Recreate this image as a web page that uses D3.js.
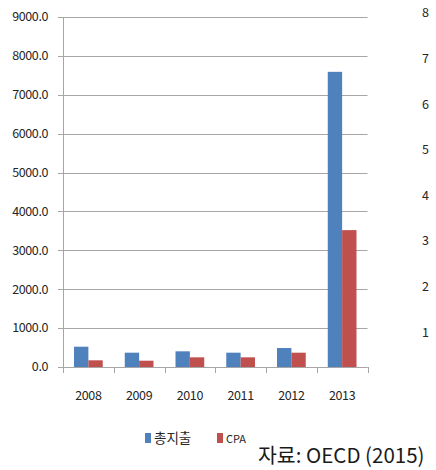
<!DOCTYPE html>
<html>
<head>
<meta charset="utf-8">
<script src="https://cdn.jsdelivr.net/npm/d3@7"></script>
<style>
  html, body { margin: 0; padding: 0; background: #fff; }
  svg { display: block; }
  text { font-family: "Noto Sans CJK KR", "Noto Sans", sans-serif; }
</style>
</head>
<body>
<svg id="chart" width="436" height="470"></svg>
<script>
// Annual spending (total vs. CPA)
const years = ["2008", "2009", "2010", "2011", "2012", "2013"];
const seriesNames = ["총지출", "CPA"];
const totalSpend = [522, 368, 403, 368, 488, 7590];
const cpaSpend = [172, 162, 249, 249, 368, 3520];
const yTicks = [0, 1000, 2000, 3000, 4000, 5000, 6000, 7000, 8000, 9000];
const sideTicks = ["8", "7", "6", "5", "4", "3", "2", "1"];
const colors = ["#4f81bd", "#c0504d"];
const sourceNote = "자료: OECD (2015)";

const svg = d3.select("#chart");
const plotLeft = 63, plotRight = 367.5, plotTop = 17, plotBottom = 367;

const x = d3.scaleBand().domain(years).range([plotLeft, plotRight])
  .paddingInner(0.434).paddingOuter(0.217);
const xs = d3.scaleBand().domain(seriesNames).range([0, x.bandwidth()]);
const y = d3.scaleLinear().domain([0, 9000]).range([plotBottom, plotTop]);

// horizontal gridlines with small left ticks
svg.append("g")
  .selectAll("line").data(yTicks).join("line")
  .attr("x1", plotLeft - 5).attr("x2", plotRight)
  .attr("y1", d => Math.round(y(d)) + 0.5).attr("y2", d => Math.round(y(d)) + 0.5)
  .attr("stroke", "#a6a6a6").attr("stroke-width", 1);

// y labels
svg.append("g")
  .selectAll("text").data(yTicks).join("text")
  .attr("x", 48).attr("y", d => y(d))
  .attr("dy", "0.35em")
  .attr("text-anchor", "end")
  .attr("font-size", 12.5)
  .attr("letter-spacing", -0.4)
  .attr("fill", "#262626")
  .text(d => d.toFixed(1));

// vertical axis line
svg.append("line")
  .attr("x1", plotLeft + 0.5).attr("x2", plotLeft + 0.5)
  .attr("y1", plotTop).attr("y2", plotBottom)
  .attr("stroke", "#a6a6a6");

// bars
const groups = svg.append("g").selectAll("g").data(years).join("g")
  .attr("transform", d => `translate(${x(d)},0)`);
groups.selectAll("rect")
  .data((d, i) => [
    { name: seriesNames[0], v: totalSpend[i] },
    { name: seriesNames[1], v: cpaSpend[i] }
  ])
  .join("rect")
  .attr("x", d => xs(d.name))
  .attr("width", xs.bandwidth())
  .attr("y", d => y(d.v))
  .attr("height", d => y(0) - y(d.v))
  .attr("fill", (d, i) => colors[i]);

// category axis with boundary ticks
const step = x.step();
svg.append("line")
  .attr("x1", plotLeft).attr("x2", plotRight)
  .attr("y1", plotBottom + 0.5).attr("y2", plotBottom + 0.5)
  .attr("stroke", "#a6a6a6");
svg.append("g").selectAll("line").data(d3.range(years.length + 1)).join("line")
  .attr("x1", i => Math.round(plotLeft + i * step) + 0.5)
  .attr("x2", i => Math.round(plotLeft + i * step) + 0.5)
  .attr("y1", plotBottom).attr("y2", plotBottom + 6)
  .attr("stroke", "#a6a6a6");
svg.append("g").selectAll("text").data(years).join("text")
  .attr("x", d => x(d) + x.bandwidth() / 2)
  .attr("y", 400)
  .attr("text-anchor", "middle")
  .attr("font-size", 12.5)
  .attr("letter-spacing", -0.4)
  .attr("fill", "#262626")
  .text(d => d);

// legend
const legend = svg.append("g");
const legendItems = [
  { x: 145, label: seriesNames[0], size: 13.5 },
  { x: 217, label: seriesNames[1], size: 11 }
];
legendItems.forEach((item, i) => {
  legend.append("rect")
    .attr("x", item.x).attr("y", 433)
    .attr("width", 6).attr("height", 10)
    .attr("fill", colors[i]);
  legend.append("text")
    .attr("x", item.x + 9).attr("y", 443)
    .attr("font-size", item.size)
    .attr("fill", "#262626")
    .text(item.label);
});

// source note
svg.append("text")
  .attr("x", 258).attr("y", 463)
  .attr("font-size", 20.5)
  .attr("fill", "#1a1a1a")
  .text(sourceNote);

// neighbouring axis labels at the right edge
svg.append("g").selectAll("text").data(sideTicks).join("text")
  .attr("x", 422)
  .attr("y", (d, i) => 13 + i * 45.6)
  .attr("dy", "0.35em")
  .attr("font-size", 12.5)
  .attr("fill", "#262626")
  .text(d => d);
</script>
</body>
</html>
